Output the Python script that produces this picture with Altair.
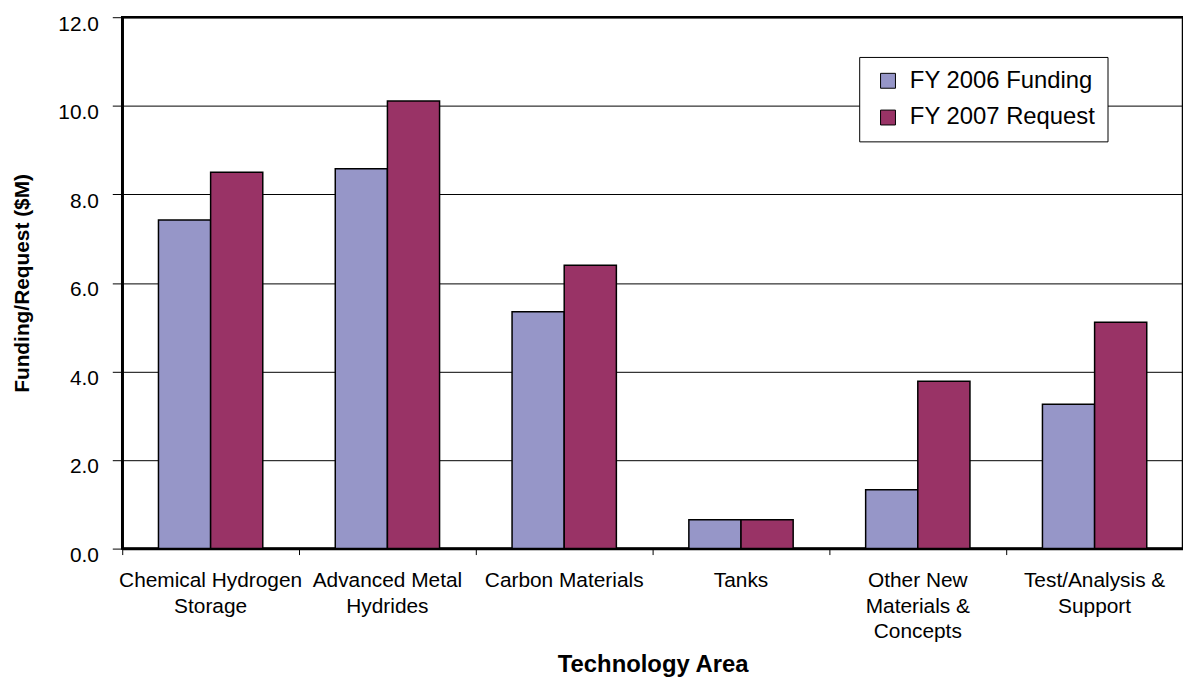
import altair as alt
import pandas as pd

categories = ["Chemical Hydrogen|Storage", "Advanced Metal|Hydrides", "Carbon Materials",
              "Tanks", "Other New|Materials &|Concepts", "Test/Analysis &|Support"]
series = ["FY 2006 Funding", "FY 2007 Request"]
fy2006 = [7.42, 8.58, 5.35, 0.65, 1.33, 3.26]
fy2007 = [8.50, 10.11, 6.40, 0.65, 3.78, 5.11]
colors = ["#9696C8", "#993366"]
y_ticks = [0, 2, 4, 6, 8, 10, 12]

rows = []
for c, a, b in zip(categories, fy2006, fy2007):
    rows.append({"area": c, "series": series[0], "value": a})
    rows.append({"area": c, "series": series[1], "value": b})
df = pd.DataFrame(rows)

FONT = "Liberation Sans"

bars = alt.Chart(df).mark_bar(stroke="black", strokeWidth=1.5).encode(
    x=alt.X("area:N", sort=categories, title="Technology Area",
            scale=alt.Scale(paddingInner=0, paddingOuter=0),
            axis=alt.Axis(labelExpr="split(datum.label, '|')", labelAngle=0,
                          bandPosition=0, tickSize=6, tickColor="black", tickWidth=1,
                          domainColor="black", domainWidth=2.5,
                          labelFontSize=21, labelFont=FONT, labelColor="black",
                          labelPadding=15, labelLineHeight=26, labelLimit=400,
                          titleFontSize=24, titleFont=FONT, titleFontWeight="bold",
                          titleColor="black", titlePadding=11)),
    xOffset=alt.XOffset("series:N", sort=series,
                        scale=alt.Scale(paddingInner=0, paddingOuter=0.695)),
    y=alt.Y("value:Q", title="Funding/Request ($M)",
            scale=alt.Scale(domain=[0, 12], nice=False),
            axis=alt.Axis(values=y_ticks, format=".1f", grid=True, gridColor="black",
                          gridWidth=1, tickSize=10, tickColor="black", tickWidth=1,
                          domainColor="black", domainWidth=2.5,
                          labelFontSize=21, labelFont=FONT, labelColor="black",
                          labelPadding=14, labelOffset=7,
                          titleFontSize=21, titleFont=FONT, titleFontWeight="bold",
                          titleColor="black", titlePadding=25)),
    color=alt.Color("series:N", sort=series, title=None,
                    scale=alt.Scale(domain=series, range=colors),
                    legend=alt.Legend(orient="none", legendX=742, legendY=40,
                                      fillColor="white", strokeColor="black",
                                      padding=12, labelFontSize=24, labelFont=FONT,
                                      labelColor="black", symbolType="square",
                                      symbolSize=225, symbolStrokeColor="black",
                                      symbolStrokeWidth=1, rowPadding=13,
                                      labelOffset=10, labelLimit=400,
                                      symbolOffset=5)),
)

chart = bars.properties(
    width=1068, height=535,
    autosize=alt.AutoSizeParams(type="none"),
    padding={"left": 115, "top": 7, "right": 0, "bottom": 128},
    background="white",
).configure_view(stroke="black", strokeWidth=2.5)

chart.save("out.html", embed_options={"renderer": "svg", "actions": False})
